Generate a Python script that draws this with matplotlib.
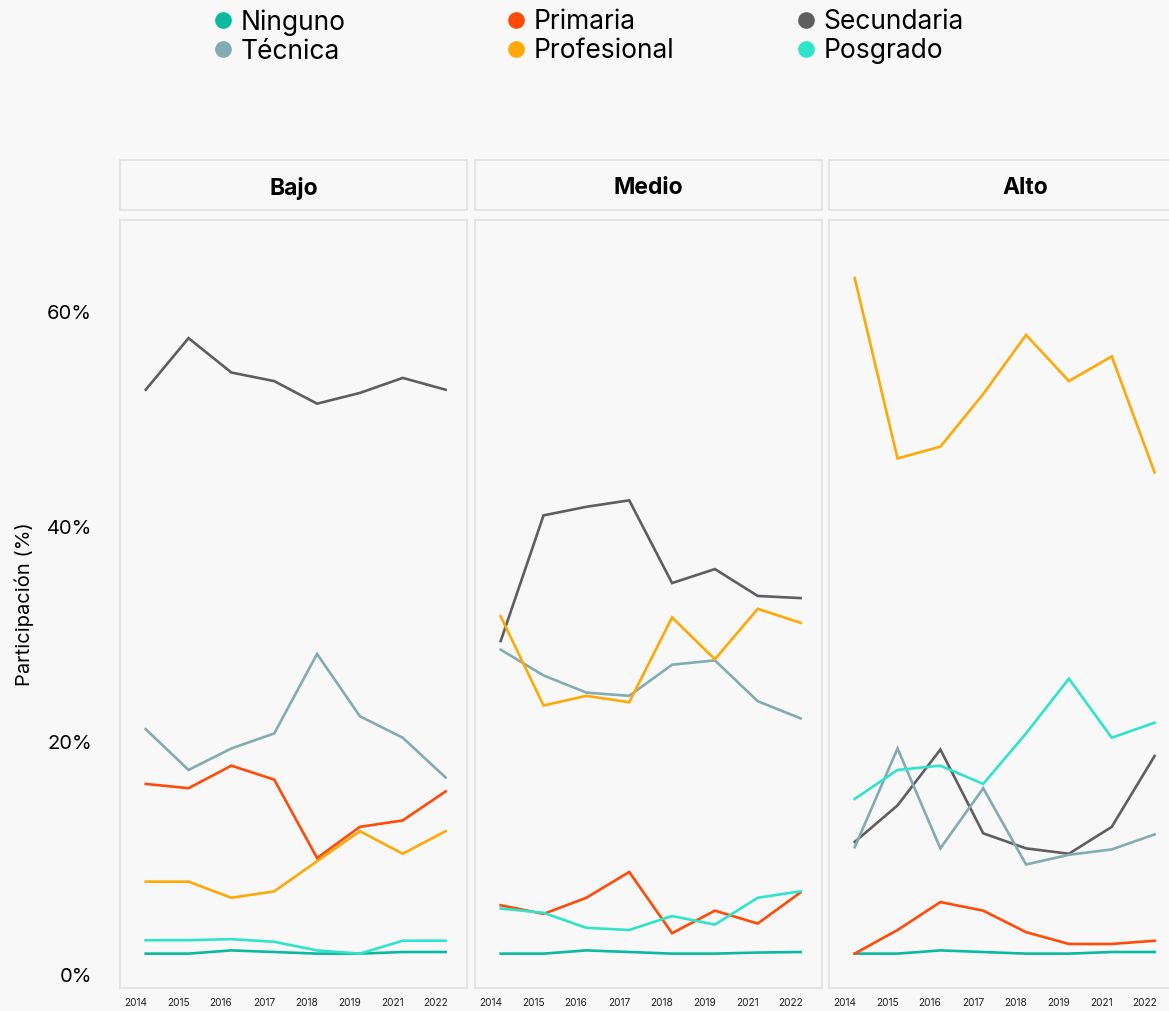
import matplotlib
matplotlib.use("Agg")
import matplotlib.pyplot as plt
import matplotlib.transforms as mtrans
from matplotlib.lines import Line2D
from matplotlib.ticker import FuncFormatter

plt.rcParams['font.family'] = ['Inter', 'DejaVu Sans']

years = ["2014", "2015", "2016", "2017", "2018", "2019", "2021", "2022"]
niveles = ["Bajo", "Medio", "Alto"]
categorias = ["Ninguno", "Primaria", "Secundaria", "Técnica", "Profesional", "Posgrado"]
colores = ["#0bb9a0", "#ff4a08", "#5e5e5e", "#82abb3", "#ffa806", "#2fe4c9"]

# Bajo
ninguno_bajo = [0.3, 0.3, 0.6, 0.45, 0.3, 0.3, 0.45, 0.45]
primaria_bajo = [16.1, 15.7, 17.8, 16.5, 9.2, 12.1, 12.7, 15.4]
secundaria_bajo = [52.8, 57.6, 54.4, 53.6, 51.5, 52.5, 53.9, 52.8]
tecnica_bajo = [21.2, 17.4, 19.4, 20.8, 28.2, 22.4, 20.4, 16.7]
profesional_bajo = [7.0, 7.0, 5.5, 6.1, 8.9, 11.7, 9.6, 11.7]
posgrado_bajo = [1.55, 1.55, 1.65, 1.4, 0.6, 0.3, 1.5, 1.5]

# Medio
ninguno_medio = [0.3, 0.3, 0.6, 0.45, 0.3, 0.3, 0.4, 0.45]
primaria_medio = [4.8, 4.0, 5.5, 7.9, 2.2, 4.3, 3.1, 6.0]
secundaria_medio = [29.4, 41.1, 41.9, 42.5, 34.8, 36.1, 33.6, 33.4]
tecnica_medio = [28.6, 26.2, 24.6, 24.3, 27.2, 27.6, 23.8, 22.2]
profesional_medio = [31.7, 23.4, 24.3, 23.7, 31.6, 27.7, 32.4, 31.1]
posgrado_medio = [4.5, 4.1, 2.7, 2.5, 3.8, 3.0, 5.5, 6.1]

# Alto
ninguno_alto = [0.3, 0.3, 0.6, 0.45, 0.3, 0.3, 0.45, 0.45]
primaria_alto = [0.3, 2.5, 5.1, 4.3, 2.3, 1.2, 1.2, 1.5]
secundaria_alto = [10.7, 14.1, 19.3, 11.5, 10.1, 9.6, 12.1, 18.7]
tecnica_alto = [10.2, 19.4, 10.1, 15.7, 8.6, 9.5, 10.0, 11.4]
profesional_alto = [63.2, 46.4, 47.5, 52.4, 57.9, 53.6, 55.9, 45.1]
posgrado_alto = [14.7, 17.4, 17.8, 16.1, 20.8, 25.9, 20.4, 21.8]

datos = {
    "Bajo": [ninguno_bajo, primaria_bajo, secundaria_bajo, tecnica_bajo, profesional_bajo, posgrado_bajo],
    "Medio": [ninguno_medio, primaria_medio, secundaria_medio, tecnica_medio, profesional_medio, posgrado_medio],
    "Alto": [ninguno_alto, primaria_alto, secundaria_alto, tecnica_alto, profesional_alto, posgrado_alto],
}

bg = "#f8f8f8"
borde = "#e0e0e0"

fig = plt.figure(figsize=(11.69, 10.11), dpi=100)
fig.patch.set_facecolor(bg)

W, H = 1169.0, 1011.0
lefts = [120, 475, 829]
pw = 347
strip_w = [347, 347, 392]  # el ultimo encabezado sale del lienzo
x = list(range(len(years)))

for i, nivel in enumerate(niveles):
    ax = fig.add_axes([lefts[i] / W, (H - 988) / H, pw / W, 768 / H])
    ax.set_facecolor(bg)
    for serie, color in zip(datos[nivel], colores):
        ax.plot(x, serie, color=color, lw=1.9, solid_joinstyle="miter")
    ax.set_xlim(-0.6, 7.5)
    ax.set_ylim(-2.9, 68.6)
    for s in ax.spines.values():
        s.set_color(borde)
        s.set_linewidth(1.2)
    # etiquetas del eje x un poco a la izquierda de cada punto, como en el original
    ax.set_xticks([v - 0.24 for v in x])
    ax.set_xticklabels(years, fontsize=7.3, color="#222222")
    ax.tick_params(axis="x", length=0, pad=7)
    ax.set_yticks([0, 20, 40, 60])
    if i == 0:
        ax.yaxis.set_major_formatter(FuncFormatter(lambda v, p: f"{int(v)}%"))
        ax.tick_params(axis="y", length=0, pad=20, labelsize=14.5)
        lab0 = ax.get_yticklabels()[0]
        lab0.set_transform(lab0.get_transform() + mtrans.ScaledTranslation(0, -18 / 100, fig.dpi_scale_trans))
        ax.set_ylabel("Participación (%)", fontsize=14.5, labelpad=9)
    else:
        ax.tick_params(axis="y", length=0, labelleft=False)

    # encabezado del panel
    sx = fig.add_axes([lefts[i] / W, (H - 210) / H, strip_w[i] / W, 50 / H])
    sx.set_facecolor(bg)
    sx.set_xticks([])
    sx.set_yticks([])
    for s in sx.spines.values():
        s.set_color(borde)
        s.set_linewidth(1.2)
    sx.text(0.5, 0.43, nivel, ha="center", va="center", fontsize=16.5, fontweight="bold",
            transform=sx.transAxes)

# leyenda en tres columnas
grupos = [(0, 3), (1, 4), (2, 5)]
anclas = [210, 503, 793]
for (a, b), xa in zip(grupos, anclas):
    handles = [Line2D([], [], marker="o", ls="", color=colores[k], markersize=11) for k in (a, b)]
    leg = fig.legend(handles, [categorias[a], categorias[b]], loc="upper left",
                     bbox_to_anchor=(xa / W, 1 - 9 / H), frameon=False, fontsize=19,
                     handletextpad=0.15, labelspacing=0.12, handlelength=1.0,
                     borderaxespad=0, borderpad=0)

fig.savefig("out.png", dpi=100, facecolor=bg)
